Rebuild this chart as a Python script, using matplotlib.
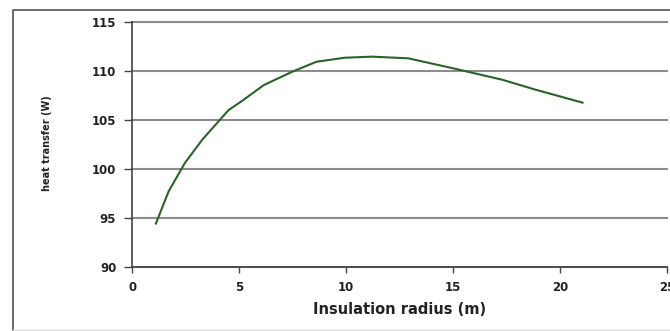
import numpy as np
import matplotlib as mpl
mpl.use('Agg')
import matplotlib.pyplot as plt

# Values
radius = [1.1, 1.7, 2.46, 3.28, 4.5, 5.08, 6.15, 7.46, 8.61, 9.93, 11.2, 12.9, 15.0, 17.3, 18.8, 21.05]
heat = [94.4, 97.7, 100.6, 103.0, 106.0, 106.86, 108.56, 109.9, 110.94, 111.35, 111.46, 111.29, 110.27, 109.1, 108.12, 106.76]

xticks = [0, 5, 10, 15, 20, 25]
yticks = [90, 95, 100, 105, 110, 115]

fig = plt.figure(figsize=(6.7, 3.31), dpi=100)
# outer chart frame: dark left and top edges, faint bottom, right side runs off the picture
fl, ft, fb = 12.7 / 670, 1 - 10 / 331, 1.2 / 331
fig.lines.append(plt.Line2D([fl, fl, 1], [fb, ft, ft], transform=fig.transFigure,
                            color='#444444', linewidth=1.1))
fig.lines.append(plt.Line2D([fl, 1], [fb, fb], transform=fig.transFigure,
                            color='#d8d8d8', linewidth=1.0))

ax = fig.add_axes([132.3 / 670, 1 - 266.7 / 331, 534.7 / 670, 244.7 / 331])
ax.plot(radius, heat, color='#2a632a', linewidth=1.5)

ax.set_xlim(0, 25)
ax.set_ylim(90, 115)
ax.set_xticks(xticks)
ax.set_yticks(yticks)
ax.yaxis.grid(True, color='#8c8c8c', linewidth=1.5)
ax.set_axisbelow(True)
for g in ax.get_ygridlines():
    g.set_clip_on(False)
for s in ['top', 'right']:
    ax.spines[s].set_visible(False)
for s in ['left', 'bottom']:
    ax.spines[s].set_color('#444444')
    ax.spines[s].set_linewidth(1.2)
ax.tick_params(axis='y', colors='#444444', length=5.5, width=1.0,
               labelsize=8.5, labelcolor='#222222', pad=6)
ax.tick_params(axis='x', colors='#444444', length=4, width=1.0,
               labelsize=8.5, labelcolor='#222222', pad=6)
for lbl in ax.get_xticklabels() + ax.get_yticklabels():
    lbl.set_fontweight('bold')

ax.set_xlabel('Insulation radius (m)', fontsize=10.5, fontweight='bold', color='#222222')
ax.xaxis.set_label_coords(0.5, -(309.5 - 266.7) / 244.7)
ax.xaxis.label.set_va('center')
fig.text(46.7 / 670, 1 - 143.5 / 331, 'heat transfer (W)', rotation=90, fontsize=7,
         fontweight='bold', color='#222222', ha='center', va='center')

fig.savefig('out.png', dpi=100)
